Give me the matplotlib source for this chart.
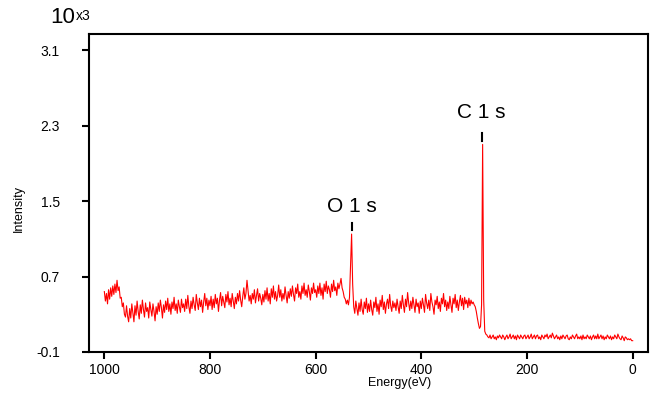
import matplotlib
matplotlib.use("Agg")

import numpy as np
import matplotlib.pyplot as plt

# Survey spectrum, 2 eV steps from 1000 eV down to 0 eV (values in units of 10^3)
energy = np.arange(1000, -1, -2)

intensity = [
    # 1000 -> 952
    0.54, 0.44, 0.52, 0.41, 0.56, 0.46, 0.58, 0.49, 0.60, 0.51, 0.62, 0.53, 0.66, 0.55, 0.59, 0.47, 0.48, 0.38, 0.42, 0.30, 0.27, 0.39, 0.28, 0.22, 0.36,
    # 950 -> 902
    0.26, 0.41, 0.31, 0.22, 0.39, 0.29, 0.44, 0.33, 0.25, 0.40, 0.31, 0.45, 0.35, 0.27, 0.42, 0.33, 0.37, 0.26, 0.43, 0.35, 0.28, 0.41, 0.33, 0.23, 0.38,
    # 900 -> 852
    0.30, 0.42, 0.33, 0.45, 0.37, 0.26, 0.40, 0.32, 0.44, 0.35, 0.47, 0.33, 0.41, 0.30, 0.43, 0.36, 0.48, 0.34, 0.41, 0.31, 0.45, 0.38, 0.32, 0.46, 0.37,
    # 850 -> 802
    0.41, 0.33, 0.46, 0.36, 0.50, 0.38, 0.31, 0.44, 0.36, 0.48, 0.40, 0.34, 0.51, 0.42, 0.35, 0.47, 0.38, 0.45, 0.32, 0.43, 0.52, 0.39, 0.47, 0.35, 0.45,
    # 800 -> 752
    0.39, 0.49, 0.35, 0.46, 0.37, 0.51, 0.41, 0.47, 0.33, 0.45, 0.53, 0.39, 0.49, 0.43, 0.37, 0.51, 0.43, 0.54, 0.40, 0.47, 0.38, 0.52, 0.44, 0.36, 0.48,
    # 750 -> 702
    0.41, 0.52, 0.44, 0.55, 0.45, 0.38, 0.49, 0.58, 0.46, 0.52, 0.66, 0.55, 0.44, 0.50, 0.41, 0.52, 0.46, 0.56, 0.42, 0.50, 0.57, 0.44, 0.52, 0.47, 0.40,
    # 700 -> 652
    0.51, 0.43, 0.55, 0.46, 0.58, 0.44, 0.52, 0.41, 0.57, 0.48, 0.60, 0.46, 0.54, 0.44, 0.50, 0.61, 0.48, 0.56, 0.44, 0.52, 0.46, 0.59, 0.50, 0.42, 0.54,
    # 650 -> 602
    0.47, 0.57, 0.49, 0.60, 0.51, 0.44, 0.58, 0.52, 0.62, 0.48, 0.54, 0.46, 0.60, 0.52, 0.63, 0.50, 0.56, 0.48, 0.61, 0.54, 0.45, 0.58, 0.52, 0.63, 0.53,
    # 600 -> 552
    0.56, 0.48, 0.60, 0.52, 0.63, 0.50, 0.58, 0.46, 0.62, 0.54, 0.65, 0.52, 0.60, 0.56, 0.48, 0.62, 0.54, 0.66, 0.55, 0.59, 0.50, 0.63, 0.57, 0.62, 0.68,
    # 550 -> 502 (O 1s)
    0.58, 0.54, 0.48, 0.46, 0.41, 0.45, 0.40, 0.48, 0.80, 1.15, 0.62, 0.38, 0.31, 0.44, 0.36, 0.29, 0.42, 0.33, 0.46, 0.35, 0.30, 0.43, 0.36, 0.47, 0.32,
    # 500 -> 452
    0.41, 0.33, 0.45, 0.35, 0.29, 0.43, 0.37, 0.48, 0.33, 0.41, 0.30, 0.45, 0.38, 0.50, 0.35, 0.43, 0.31, 0.41, 0.46, 0.36, 0.51, 0.39, 0.33, 0.44, 0.37,
    # 450 -> 402
    0.42, 0.34, 0.46, 0.38, 0.31, 0.44, 0.36, 0.50, 0.40, 0.32, 0.46, 0.38, 0.53, 0.42, 0.34, 0.44, 0.36, 0.48, 0.40, 0.32, 0.46, 0.38, 0.42, 0.31, 0.44,
    # 400 -> 352
    0.36, 0.47, 0.40, 0.32, 0.51, 0.42, 0.36, 0.45, 0.34, 0.52, 0.43, 0.38, 0.30, 0.45, 0.40, 0.49, 0.36, 0.43, 0.33, 0.47, 0.41, 0.52, 0.38, 0.45, 0.34,
    # 350 -> 302
    0.43, 0.36, 0.49, 0.40, 0.32, 0.47, 0.41, 0.51, 0.37, 0.45, 0.34, 0.43, 0.50, 0.39, 0.47, 0.35, 0.48, 0.41, 0.45, 0.37, 0.47, 0.39, 0.45, 0.41, 0.43,
    # 300 -> 252 (C 1s)
    0.40, 0.38, 0.33, 0.26, 0.20, 0.15, 0.17, 0.40, 2.10, 0.45, 0.12, 0.09, 0.08, 0.06, 0.05, 0.08, 0.04, 0.06, 0.08, 0.04, 0.06, 0.03, 0.07, 0.05, 0.08,
    # 250 -> 202
    0.06, 0.04, 0.08, 0.06, 0.03, 0.06, 0.08, 0.04, 0.06, 0.09, 0.04, 0.06, 0.08, 0.04, 0.07, 0.03, 0.08, 0.06, 0.04, 0.08, 0.06, 0.04, 0.07, 0.08, 0.04,
    # 200 -> 152
    0.06, 0.08, 0.04, 0.06, 0.09, 0.04, 0.06, 0.08, 0.04, 0.07, 0.08, 0.04, 0.06, 0.03, 0.08, 0.06, 0.04, 0.08, 0.06, 0.09, 0.04, 0.06, 0.08, 0.05, 0.10,
    # 150 -> 102
    0.07, 0.04, 0.06, 0.08, 0.04, 0.06, 0.03, 0.07, 0.04, 0.08, 0.06, 0.04, 0.07, 0.08, 0.04, 0.03, 0.06, 0.04, 0.08, 0.06, 0.04, 0.07, 0.09, 0.04, 0.06,
    # 100 -> 52
    0.04, 0.07, 0.03, 0.08, 0.04, 0.06, 0.04, 0.08, 0.06, 0.04, 0.07, 0.03, 0.06, 0.08, 0.04, 0.07, 0.04, 0.09, 0.04, 0.06, 0.08, 0.04, 0.07, 0.03, 0.06,
    # 50 -> 0
    0.04, 0.08, 0.06, 0.04, 0.07, 0.03, 0.06, 0.04, 0.08, 0.06, 0.04, 0.09, 0.06, 0.04, 0.03, 0.07, 0.05, 0.02, 0.06, 0.05, 0.03, 0.04, 0.03, 0.04, 0.02,
    0.02,
]
assert len(intensity) == len(energy)

peak_names = ["O 1 s", "C 1 s"]
peak_energy = [532, 286]
peak_top = [1.15, 2.10]
label_offset = [0.29, 0.34]

x_ticks = [1000, 800, 600, 400, 200, 0]
y_ticks = [-0.1, 0.7, 1.5, 2.3, 3.1]
y_tick_labels = ["-0.1", "0.7", "1.5", "2.3", "3.1"]

plt.rcParams["font.family"] = ["Liberation Sans", "DejaVu Sans"]

fig = plt.figure(figsize=(6.56, 3.94), dpi=100)
ax = fig.add_axes([0.1357, 0.1066, 0.8521, 0.8071])

ax.plot(energy, intensity, color="#ff0000", lw=0.8)

# peak markers and labels
for name, e, top, off in zip(peak_names, peak_energy, peak_top, label_offset):
    ax.plot([e, e], [top + 0.04, top + 0.12], color="black", lw=1.5)
    ax.text(e, top + off, name, ha="center", va="center", fontsize=15)

ax.set_xlim(1029, -29)
ax.set_ylim(-0.1, 3.27)
ax.set_xticks(x_ticks)
ax.set_xticklabels([str(v) for v in x_ticks])
ax.set_yticks(y_ticks)
ax.set_yticklabels(y_tick_labels)

for sp in ax.spines.values():
    sp.set_linewidth(1.5)
ax.tick_params(axis="both", direction="out", length=5, width=1.5, labelsize=10)
ax.tick_params(axis="y", pad=16)
ax.tick_params(axis="x", pad=3)

ax.set_xlabel("Energy(eV)", fontsize=9)
ax.xaxis.set_label_coords(0.556, -0.078)
ax.set_ylabel("Intensity", fontsize=9)
ax.yaxis.set_label_coords(-0.115, 0.45)

fig.text(0.076, 0.955, "10", fontsize=16, ha="left", va="center")
fig.text(0.115, 0.96, "x3", fontsize=10, ha="left", va="center")

fig.savefig("out.png", dpi=100)
